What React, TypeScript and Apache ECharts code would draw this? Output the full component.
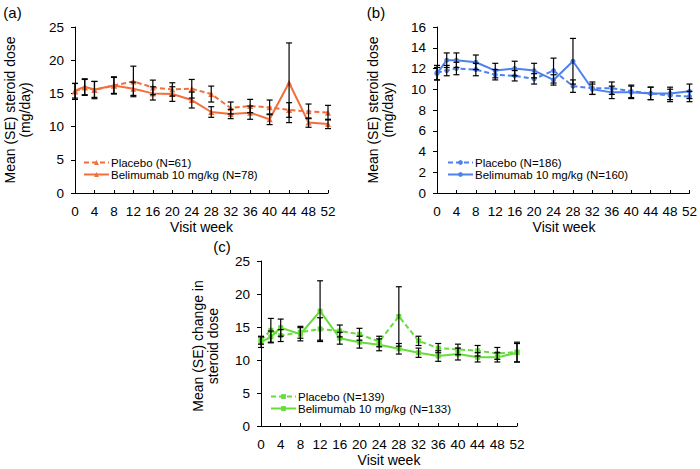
import React, { useEffect, useRef } from "react";
import * as echarts from "echarts";

const FONT = "'Liberation Sans', Arial, Helvetica, sans-serif";

// Visit weeks (x values)
const weeks = [0, 2, 4, 8, 12, 16, 20, 24, 28, 32, 36, 40, 44, 48, 52];
const xTickInterval = 4;

// Panel (a)
const placeboA = [15.3, 15.9, 15.5, 16.2, 16.8, 15.9, 15.6, 15.7, 14.9, 12.8, 13.1, 12.9, 12.5, 12.3, 12.1];
const placeboASE = [1.2, 1.2, 1.3, 1.2, 2.3, 1.1, 1.0, 1.4, 1.2, 0.9, 1.0, 1.1, 1.1, 1.1, 1.1];
const belA = [15.4, 16.0, 15.6, 16.2, 15.7, 15.0, 14.9, 14.0, 12.2, 11.9, 12.1, 11.1, 16.6, 10.6, 10.4];
const belASE = [1.1, 1.2, 1.2, 1.3, 1.0, 1.0, 1.1, 1.2, 0.8, 0.7, 1.0, 0.8, 6.0, 0.7, 0.7];

// Panel (b)
const placeboB = [11.6, 11.8, 12.0, 11.9, 11.4, 11.3, 11.0, 11.8, 10.3, 10.1, 10.1, 9.8, 9.6, 9.4, 9.3];
const placeboBSE = [0.7, 0.5, 0.6, 0.6, 0.5, 0.5, 0.5, 1.2, 0.6, 0.6, 0.6, 0.6, 0.6, 0.6, 0.5];
const belB = [11.5, 12.8, 12.8, 12.6, 11.8, 12.0, 11.8, 10.9, 12.7, 10.0, 9.7, 9.7, 9.6, 9.6, 9.8];
const belBSE = [0.6, 0.7, 0.7, 0.7, 0.7, 0.7, 0.7, 0.5, 2.2, 0.5, 0.6, 0.6, 0.6, 0.6, 0.7];

// Panel (c)
const placeboC = [13.0, 14.5, 13.7, 14.2, 14.7, 14.4, 13.9, 12.8, 16.6, 12.9, 11.8, 11.6, 11.4, 11.0, 11.2];
const placeboCSE = [0.6, 1.8, 0.9, 0.9, 1.7, 0.9, 0.9, 0.8, 4.5, 0.7, 0.7, 0.8, 0.8, 0.9, 1.5];
const belC = [12.7, 13.5, 14.9, 13.9, 17.4, 13.3, 12.7, 12.3, 11.7, 11.1, 10.6, 10.9, 10.4, 10.4, 11.1];
const belCSE = [0.8, 0.9, 1.3, 1.0, 4.6, 0.9, 0.9, 0.9, 0.8, 0.7, 0.8, 0.9, 0.7, 0.7, 1.4];

const namesA = ["Placebo (N=61)", "Belimumab 10 mg/kg (N=78)"];
const namesB = ["Placebo (N=186)", "Belimumab 10 mg/kg (N=160)"];
const namesC = ["Placebo (N=139)", "Belimumab 10 mg/kg (N=133)"];

const colorA = "#F26E3C";
const colorB = "#4E80EE";
const colorC = "#66DD3A";

function pairs(vals: number[]) {
  return weeks.map((w, i) => [w, vals[i]]);
}
function triples(vals: number[], se: number[]) {
  return weeks.map((w, i) => [w, vals[i], se[i]]);
}

function lineSeries(name: string, vals: number[], idx: number, color: string, symbol: string, size: number, dashed: boolean) {
  return {
    type: "line",
    name,
    xAxisIndex: idx,
    yAxisIndex: idx,
    data: pairs(vals),
    symbol,
    symbolSize: size,
    showSymbol: true,
    color,
    itemStyle: { color },
    lineStyle: { color, width: 2, type: dashed ? [5, 3] : "solid" },
    z: 2,
  };
}

function errSeries(vals: number[], se: number[], idx: number) {
  return {
    type: "custom",
    xAxisIndex: idx,
    yAxisIndex: idx,
    data: triples(vals, se),
    encode: { x: 0, y: 1 },
    z: 3,
    silent: true,
    renderItem: (_params: any, api: any) => {
      const x = api.value(0);
      const m = api.value(1);
      const s = api.value(2);
      const top = api.coord([x, m + s]);
      const bot = api.coord([x, m - s]);
      const cw = 3;
      const st = { stroke: "#000", lineWidth: 1.2 };
      return {
        type: "group",
        children: [
          { type: "line", shape: { x1: top[0], y1: top[1], x2: bot[0], y2: bot[1] }, style: st },
          { type: "line", shape: { x1: top[0] - cw, y1: top[1], x2: top[0] + cw, y2: top[1] }, style: st },
          { type: "line", shape: { x1: bot[0] - cw, y1: bot[1], x2: bot[0] + cw, y2: bot[1] }, style: st },
        ],
      };
    },
  };
}

function xAxis(idx: number) {
  return {
    type: "value",
    gridIndex: idx,
    min: 0,
    max: 52,
    interval: xTickInterval,
    axisLine: { show: true, lineStyle: { color: "#000", width: 1 } },
    axisTick: { show: true, inside: true, length: 3, lineStyle: { color: "#000" } },
    axisLabel: { color: "#000", fontSize: 13.5, fontFamily: FONT, margin: 11 },
    splitLine: { show: false },
  };
}

function yAxis(idx: number, max: number, interval: number) {
  return {
    type: "value",
    gridIndex: idx,
    min: 0,
    max,
    interval,
    axisLine: { show: true, lineStyle: { color: "#000", width: 1 } },
    axisTick: { show: true, inside: false, length: 4, lineStyle: { color: "#000" } },
    axisLabel: { color: "#000", fontSize: 13.5, fontFamily: FONT, margin: 11 },
    splitLine: { show: false },
  };
}

function legend(names: string[], left: number, top: number) {
  return {
    data: names,
    orient: "vertical",
    left,
    top,
    itemWidth: 25,
    itemHeight: 6,
    itemGap: 0,
    padding: 0,
    selectedMode: false,
    textStyle: { color: "#000", fontSize: 11.5, fontFamily: FONT, lineHeight: 11, padding: [0, 0, 0, -3] },
  };
}

function txt(x: number, y: number, text: string, size: number, rotate = false) {
  return {
    type: "text",
    x,
    y,
    rotation: rotate ? Math.PI / 2 : 0,
    style: {
      text,
      fill: "#000",
      fontSize: size,
      fontFamily: FONT,
      align: "center",
      verticalAlign: "middle",
      lineHeight: 15,
    },
  };
}

export default function App() {
  const ref = useRef<HTMLDivElement>(null);
  useEffect(() => {
    if (!ref.current) return;
    const chart = echarts.init(ref.current, undefined, { renderer: "svg" });
    chart.setOption({
      animation: false,
      backgroundColor: "#fff",
      grid: [
        { left: 75, top: 27, width: 253, height: 166 },
        { left: 437, top: 27, width: 254, height: 166 },
        { left: 261, top: 261, width: 256, height: 165 },
      ],
      xAxis: [xAxis(0), xAxis(1), xAxis(2)],
      yAxis: [yAxis(0, 25, 5), yAxis(1, 16, 2), yAxis(2, 25, 5)],
      legend: [legend(namesA, 83, 156.5), legend(namesB, 447, 156.5), legend(namesC, 270, 390.5)],
      series: [
        lineSeries(namesA[0], placeboA, 0, colorA, "triangle", 6, true),
        lineSeries(namesA[1], belA, 0, colorA, "triangle", 6, false),
        errSeries(placeboA, placeboASE, 0),
        errSeries(belA, belASE, 0),
        lineSeries(namesB[0], placeboB, 1, colorB, "circle", 5, true),
        lineSeries(namesB[1], belB, 1, colorB, "circle", 5, false),
        errSeries(placeboB, placeboBSE, 1),
        errSeries(belB, belBSE, 1),
        lineSeries(namesC[0], placeboC, 2, colorC, "rect", 5, true),
        lineSeries(namesC[1], belC, 2, colorC, "rect", 5, false),
        errSeries(placeboC, placeboCSE, 2),
        errSeries(belC, belCSE, 2),
      ],
      graphic: [
        txt(12.5, 12, "(a)", 15),
        txt(376, 12, "(b)", 15),
        txt(222, 246, "(c)", 15),
        txt(17.5, 110, "Mean (SE) steroid dose\n(mg/day)", 14, true),
        txt(380.5, 110, "Mean (SE) steroid dose\n(mg/day)", 14, true),
        txt(205.5, 346, "Mean (SE) change in\nsteroid dose", 14, true),
        txt(201.5, 227, "Visit week", 14),
        txt(564, 227, "Visit week", 14),
        txt(389, 460, "Visit week", 14),
      ],
    });
    return () => chart.dispose();
  }, []);
  return (
    <div
      ref={ref}
      style={{ position: "absolute", left: 0, top: 0, width: 700, height: 469, background: "#fff" }}
    />
  );
}
